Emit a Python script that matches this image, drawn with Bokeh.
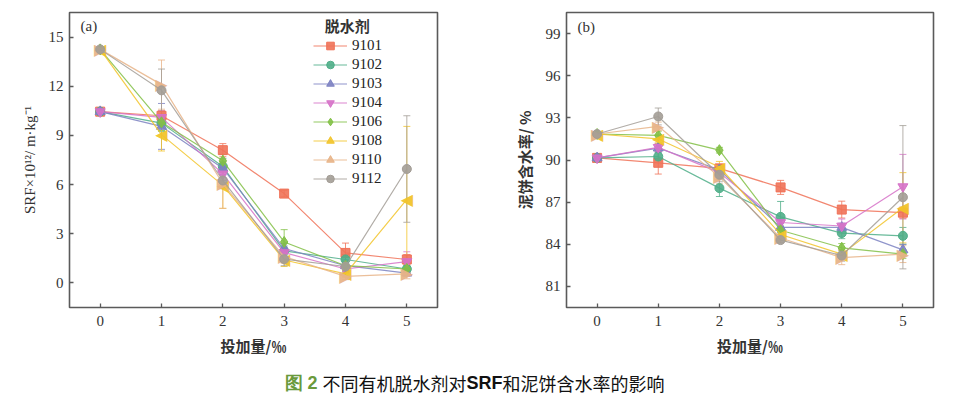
import numpy as np
from bokeh.plotting import figure
from bokeh.models import (ColumnDataSource, Whisker, TeeHead, Legend, LegendItem,
                          Label, Range1d, FixedTicker)
from bokeh.core.properties import value
from bokeh.layouts import column, row
from bokeh.embed import file_html
from bokeh.resources import INLINE

# ---------------- data ----------------
dosage = [0, 1, 2, 3, 4, 5]
agents = ["9101", "9102", "9103", "9104", "9106", "9108", "9110", "9112"]

srf_9101 = [10.45, 10.2, 8.1, 5.45, 1.83, 1.43]
srf_9102 = [10.45, 9.75, 7.1, 1.95, 1.43, 0.85]
srf_9103 = [10.45, 9.55, 7.0, 2.1, 1.05, 0.6]
srf_9104 = [10.45, 10.1, 6.65, 1.85, 0.85, 1.3]
srf_9106 = [14.25, 9.8, 7.45, 2.5, 1.05, 0.85]
srf_9108 = [14.25, 9.05, 5.95, 1.4, 0.55, 5.1]
srf_9110 = [14.25, 12.1, 6.05, 1.6, 0.4, 0.55]
srf_9112 = [14.25, 11.75, 6.25, 1.45, 1.0, 6.95]

srf_err_9101 = [0.1, 0.3, 0.4, 0.2, 0.6, 0.3]
srf_err_9102 = [0.1, 0.5, 0.5, 0.3, 0.3, 0.2]
srf_err_9103 = [0.1, 1.4, 0.4, 0.3, 0.2, 0.2]
srf_err_9104 = [0.1, 0.4, 0.4, 0.3, 0.2, 0.6]
srf_err_9106 = [0.1, 0.5, 0.4, 0.75, 0.3, 0.2]
srf_err_9108 = [0.1, 1.0, 1.4, 0.4, 0.2, 4.45]
srf_err_9110 = [0.1, 1.5, 1.5, 0.4, 0.2, 0.3]
srf_err_9112 = [0.1, 1.3, 0.5, 0.4, 0.3, 3.25]

mc_9101 = [90.15, 89.8, 89.4, 88.05, 86.47, 86.25]
mc_9102 = [90.15, 90.25, 88.0, 85.95, 84.8, 84.6]
mc_9103 = [90.15, 90.85, 89.3, 85.2, 85.2, 83.6]
mc_9104 = [90.15, 90.9, 89.1, 85.55, 85.3, 88.1]
mc_9106 = [91.85, 91.75, 90.7, 85.0, 83.75, 83.3]
mc_9108 = [91.85, 91.5, 89.5, 84.7, 83.3, 86.6]
mc_9110 = [91.85, 92.4, 88.8, 84.45, 83.05, 83.3]
mc_9112 = [91.85, 93.1, 88.95, 84.3, 83.2, 87.35]

mc_err_9101 = [0.1, 0.8, 0.3, 0.5, 0.6, 0.4]
mc_err_9102 = [0.1, 0.3, 0.6, 1.1, 0.4, 0.6]
mc_err_9103 = [0.1, 0.3, 0.3, 0.3, 0.3, 0.4]
mc_err_9104 = [0.1, 0.3, 0.3, 0.3, 0.5, 2.3]
mc_err_9106 = [0.1, 0.3, 0.2, 0.3, 0.3, 0.3]
mc_err_9108 = [0.1, 0.3, 0.4, 0.3, 0.3, 2.5]
mc_err_9110 = [0.1, 0.3, 0.5, 0.3, 0.5, 0.6]
mc_err_9112 = [0.1, 0.6, 0.5, 0.2, 0.4, 5.1]

srf_ticks = [0, 3, 6, 9, 12, 15]
mc_ticks = [81, 84, 87, 90, 93, 96, 99]

srf_series = [srf_9101, srf_9102, srf_9103, srf_9104, srf_9106, srf_9108, srf_9110, srf_9112]
srf_errs = [srf_err_9101, srf_err_9102, srf_err_9103, srf_err_9104, srf_err_9106, srf_err_9108, srf_err_9110, srf_err_9112]
mc_series = [mc_9101, mc_9102, mc_9103, mc_9104, mc_9106, mc_9108, mc_9110, mc_9112]
mc_errs = [mc_err_9101, mc_err_9102, mc_err_9103, mc_err_9104, mc_err_9106, mc_err_9108, mc_err_9110, mc_err_9112]

# ---------------- styles ----------------
colors = ["#f07258", "#4fae88", "#7d82c2", "#d672c8", "#82c046", "#f2c42a", "#e8b488", "#a39d96"]
# "◀"/"▶" are drawn as text glyphs (left/right pointing triangles)
markers = ["square", "circle", "triangle", "inverted_triangle", "diamond", "◀", "▶", "circle"]
leg_angles = [0.0, 0.0, 0.0, 0.0, 0.0, np.pi / 2, -np.pi / 2, 0.0]
msizes = [9, 9, 10, 10, 11, 10, 10, 9]

SERIF = "Liberation Serif"
CJK = "Noto Sans CJK SC"
FRAME = "#5a5a5a"


def make_panel(series, errs, yr, yticks, ylabel, ylabel_font, panel_tag, tag_y,
               width, bl, br, legend=False):
    p = figure(width=width, height=360, x_range=Range1d(-0.5, 5.5), y_range=Range1d(*yr),
               output_backend="svg", toolbar_location=None,
               min_border_left=bl, min_border_right=br, min_border_top=12, min_border_bottom=53)
    p.grid.visible = False
    p.outline_line_color = FRAME
    p.outline_line_width = 1.6
    p.background_fill_color = "white"
    p.border_fill_color = "white"
    for ax in (p.xaxis[0], p.yaxis[0]):
        ax.axis_line_color = None
        ax.major_tick_in = 4
        ax.major_tick_out = 0
        ax.major_tick_line_color = FRAME
        ax.major_tick_line_width = 1.3
        ax.minor_tick_line_color = None
        ax.major_label_text_font = SERIF
        ax.major_label_text_font_size = "15px"
        ax.major_label_text_color = "#333333"
    p.xaxis.ticker = FixedTicker(ticks=dosage)
    p.yaxis.ticker = FixedTicker(ticks=yticks)
    p.xaxis.major_label_standoff = 8
    p.yaxis.major_label_standoff = 6
    p.xaxis.axis_label = "投加量/‰"
    p.xaxis.axis_label_text_font = CJK
    p.xaxis.axis_label_text_font_size = "15px"
    p.xaxis.axis_label_text_font_style = "bold"
    p.xaxis.axis_label_text_color = "#333333"
    p.xaxis.axis_label_standoff = 6
    p.yaxis.axis_label = ylabel
    p.yaxis.axis_label_text_font = ylabel_font
    p.yaxis.axis_label_text_font_size = "15px"
    p.yaxis.axis_label_text_font_style = "bold" if ylabel_font == CJK else "normal"
    p.yaxis.axis_label_text_color = "#333333"
    p.yaxis.axis_label_standoff = 8

    items = []
    for name, vals, err, c, m, la, s in zip(agents, series, errs, colors, markers, leg_angles, msizes):
        v = np.array(vals)
        e = np.array(err)
        src = ColumnDataSource(dict(x=dosage, y=vals, upper=v + e, lower=v - e,
                                    sym=[m] * len(dosage)))
        w = Whisker(source=src, base="x", upper="upper", lower="lower",
                    line_color=c, line_width=1, line_alpha=0.8,
                    upper_head=TeeHead(size=7, line_color=c, line_width=1, line_alpha=0.8),
                    lower_head=TeeHead(size=7, line_color=c, line_width=1, line_alpha=0.8))
        p.add_layout(w)
        ln = p.line("x", "y", source=src, line_color=c, line_width=1.2, line_alpha=0.85)
        if m in ("◀", "▶"):
            p.text("x", "y", source=src, text="sym", text_font=value("DejaVu Sans"),
                   text_font_size="16px", text_align="center", text_baseline="middle",
                   text_color=c, text_alpha=0.95)
            # legend-only marker (renderer hidden in the plot area)
            sc = p.scatter("x", "y", source=src, marker="triangle", angle=la, size=s,
                           fill_color=c, line_color=c, fill_alpha=0.9)
            sc.visible = False
        else:
            sc = p.scatter("x", "y", source=src, marker=m, size=s,
                           fill_color=c, line_color=c, fill_alpha=0.9)
        items.append(LegendItem(label=name, renderers=[ln, sc]))

    if legend:
        lg = Legend(items=items, location=(244, 119), orientation="vertical")
        lg.label_text_font = SERIF
        lg.label_text_font_size = "15px"
        lg.label_text_color = "#222222"
        lg.glyph_width = 34
        lg.glyph_height = 19
        lg.label_height = 19
        lg.spacing = 0
        lg.padding = 0
        lg.margin = 0
        lg.label_standoff = 5
        lg.background_fill_alpha = 0
        lg.border_line_alpha = 0
        lg.inactive_fill_alpha = 0
        p.add_layout(lg)
        p.add_layout(Label(x=4.03, y=15.72, text="脱水剂", text_font=CJK, text_font_size="15px",
                           text_font_style="bold", text_color="#333333",
                           text_align="center", text_baseline="middle"))

    p.add_layout(Label(x=-0.32, y=tag_y, text=panel_tag, text_font=SERIF,
                       text_font_size="15px", text_color="#333333",
                       text_align="left", text_baseline="middle"))
    return p


p1 = make_panel(srf_series, srf_errs, (-1.5, 16.5), srf_ticks,
                "SRF×10¹²/ m·kg⁻¹", SERIF, "(a)", 15.65, 500, 69, 63, legend=True)
p2 = make_panel(mc_series, mc_errs, (79.5, 100.5), mc_ticks,
                "泥饼含水率/ %", CJK, "(b)", 99.5, 455, 66, 22)

# caption
cap = figure(width=955, height=37, x_range=Range1d(0, 955), y_range=Range1d(0, 37),
             output_backend="svg", toolbar_location=None,
             min_border_left=0, min_border_right=0, min_border_top=0, min_border_bottom=0)
cap.axis.visible = False
cap.grid.visible = False
cap.outline_line_color = None
fs = 18
x0 = 284
yb = 15
cap.add_layout(Label(x=x0, y=yb, text="图 2", text_font="Liberation Sans", text_font_size=f"{fs}px",
                     text_font_style="bold", text_color="#6a9a3c", text_baseline="middle"))
cap.add_layout(Label(x=x0 + 38, y=yb, text="不同有机脱水剂对", text_font=CJK, text_font_size=f"{fs}px",
                     text_color="#111111", text_baseline="middle"))
cap.add_layout(Label(x=x0 + 38 + 8 * fs, y=yb, text="SRF", text_font="Liberation Sans",
                     text_font_size=f"{fs}px", text_font_style="bold", text_color="#111111",
                     text_baseline="middle"))
cap.add_layout(Label(x=x0 + 38 + 8 * fs + 36, y=yb, text="和泥饼含水率的影响", text_font=CJK,
                     text_font_size=f"{fs}px", text_color="#111111", text_baseline="middle"))

layout = column(row(p1, p2), cap)
open("out.html", "w").write(file_html(layout, INLINE))
